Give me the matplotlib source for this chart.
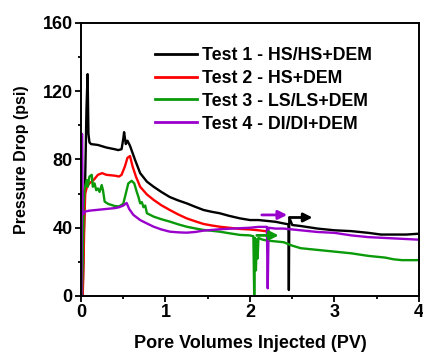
import matplotlib
matplotlib.use('Agg')
import matplotlib.pyplot as plt

plt.rcParams['font.family'] = ['Liberation Sans', 'DejaVu Sans']
plt.rcParams['font.weight'] = 'bold'

# Test 1 - HS/HS+DEM
pv1 = [0.02, 0.03, 0.05, 0.065, 0.078, 0.088, 0.1, 0.12, 0.2, 0.3, 0.4, 0.44, 0.48, 0.5, 0.51,
       0.53, 0.55, 0.58, 0.64, 0.7, 0.78, 0.86, 0.95, 1.05, 1.15, 1.25, 1.35, 1.45, 1.55, 1.64,
       1.75, 1.88, 2.0, 2.1, 2.2, 2.3, 2.4, 2.455, 2.46, 2.465, 2.5, 2.6, 2.8, 3.0, 3.2, 3.4,
       3.55, 3.7, 3.85, 4.0]
dp1 = [0, 30, 70, 110, 130, 95, 90, 89, 88.5, 87, 86, 85.5, 86, 92, 96,
       89, 91, 88, 79.7, 72, 67, 64, 61, 58, 56, 54.3, 52.3, 50.4, 49.3, 48.5,
       47, 45.5, 44.5, 44.5, 44, 43.5, 42.5, 42, 3.5, 46, 41.6, 41, 39.5, 38.5, 38, 37,
       36, 36, 36, 36.5]

# Test 2 - HS+DEM
pv2 = [0.02, 0.03, 0.04, 0.05, 0.07, 0.1, 0.15, 0.2, 0.25, 0.3, 0.4, 0.45, 0.48, 0.52, 0.55,
       0.58, 0.61, 0.65, 0.7, 0.78, 0.86, 0.95, 1.05, 1.15, 1.25, 1.35, 1.45, 1.55, 1.64, 1.75,
       1.88, 2.0, 2.1, 2.18]
dp2 = [0, 20, 45, 60, 64, 66, 68, 71, 72, 71, 70.5, 70, 71, 76, 81,
       82, 76, 70, 64, 59.5, 56.3, 53.2, 50.4, 47.8, 45.5, 43.8, 42.2, 41.3, 40.6, 40,
       39.3, 39, 38.5, 38]

# Test 3 - LS/LS+DEM
pv3 = [0.01, 0.02, 0.03, 0.04, 0.067, 0.08, 0.1, 0.127, 0.14, 0.16, 0.18, 0.2, 0.22, 0.245,
       0.26, 0.28, 0.32, 0.4, 0.45, 0.5, 0.53, 0.56, 0.6, 0.63, 0.66, 0.68, 0.7, 0.72, 0.74,
       0.76, 0.78, 0.86, 0.95, 1.05, 1.15, 1.25, 1.35, 1.45, 1.55, 1.64, 1.75, 1.88, 2.0,
       2.04, 2.05, 2.06, 2.07, 2.08, 2.09, 2.1, 2.15, 2.2, 2.3, 2.4, 2.5, 2.6, 2.7, 2.8, 3.0,
       3.2, 3.4, 3.6, 3.7, 3.8, 4.0]
dp3 = [0, 20, 50, 62, 68, 64, 70, 71, 64, 66, 62, 63, 61, 65,
       62, 55.3, 54, 52.7, 52.5, 54, 60, 66, 67.5, 66, 61, 58, 54.3, 55, 52,
       53, 48.5, 46.5, 45, 43.6, 42, 40.6, 39.6, 38.7, 38.2, 37.7, 36.8, 35.8, 35.5,
       35, 0, 34, 15, 33, 22, 34, 33, 32.5, 32, 31.5, 29.5, 28, 27.5, 27, 26,
       25, 23.5, 22.5, 21.5, 21, 21]

# Test 4 - DI/DI+DEM
pv4 = [0.005, 0.012, 0.02, 0.03, 0.05, 0.1, 0.2, 0.3, 0.4, 0.45, 0.5, 0.54, 0.57, 0.62,
       0.7, 0.78, 0.86, 0.95, 1.05, 1.15, 1.25, 1.35, 1.45, 1.55, 1.64, 1.75, 1.88, 2.0, 2.1,
       2.2, 2.21, 2.22, 2.3, 2.4, 2.5, 2.6, 2.8, 3.0, 3.2, 3.4, 3.6, 3.8, 4.0]
dp4 = [0, 95, 50, 48, 49.5, 50, 50.5, 51, 51.5, 52, 53, 54.5, 51, 47.5,
       44.5, 42.5, 40.6, 39, 37.7, 37.3, 37.1, 37.5, 38.3, 38.7, 39.1, 39.4, 39.7, 40, 40.5,
       40.5, 4.5, 40, 39.5, 39.5, 39, 38.5, 37.5, 37, 35.5, 34.5, 34, 33.5, 33]

labels = ['Test 1 - HS/HS+DEM', 'Test 2 - HS+DEM', 'Test 3 - LS/LS+DEM', 'Test 4 - DI/DI+DEM']
colors = ['black', '#ff0000', '#0a9a0a', '#9900cc']

# arrows marking the switch to the DEM brine: (start pv, end pv, psi)
arrow_pv0 = [2.47, 2.08, 2.14]
arrow_pv1 = [2.74, 2.34, 2.44]
arrow_dp = [46, 35.5, 47.5]
arrow_colors = ['black', '#0a9a0a', '#9900cc']

fig = plt.figure(figsize=(4.23, 3.53), dpi=100)
ax = fig.add_axes([0.1915, 0.1615, 0.799, 0.7735])

ax.plot(pv1, dp1, color=colors[0], lw=1.7, label=labels[0])
ax.plot(pv2, dp2, color=colors[1], lw=1.7, label=labels[1])
ax.plot(pv3, dp3, color=colors[2], lw=1.7, label=labels[2])
ax.plot(pv4, dp4, color=colors[3], lw=1.7, label=labels[3])

for x0, x1, y, c in zip(arrow_pv0, arrow_pv1, arrow_dp, arrow_colors):
    ax.annotate('', xy=(x1, y), xytext=(x0, y),
                arrowprops=dict(arrowstyle='-|>', color=c, lw=2.0, mutation_scale=13,
                                shrinkA=0, shrinkB=0))

ax.set_xlim(0, 4)
ax.set_ylim(0, 160)
ax.set_xticks([0, 1, 2, 3, 4])
ax.set_xticks([0.5, 1.5, 2.5, 3.5], minor=True)
ax.set_yticks([0, 40, 80, 120, 160])
ax.set_yticks([20, 60, 100, 140], minor=True)
ax.tick_params(which='major', direction='out', length=4, width=1.3, labelsize=13, pad=2)
ax.tick_params(which='minor', direction='out', length=2.5, width=1.3)
for s in ax.spines.values():
    s.set_linewidth(1.4)

ax.set_xlabel('Pore Volumes Injected (PV)', fontsize=13, fontweight='bold', labelpad=10)
ax.set_ylabel('Pressure Drop (psi)', fontsize=11.5, fontweight='bold', labelpad=10)

leg = ax.legend(loc='upper left', bbox_to_anchor=(0.219, 0.912), frameon=False,
                fontsize=12.8, handlelength=2.35, handletextpad=0.3, labelspacing=0.33,
                borderaxespad=0, borderpad=0)
for t in leg.get_texts():
    t.set_fontweight('bold')
for h in leg.get_lines():
    h.set_linewidth(2.0)

fig.savefig('out.png', dpi=100)
